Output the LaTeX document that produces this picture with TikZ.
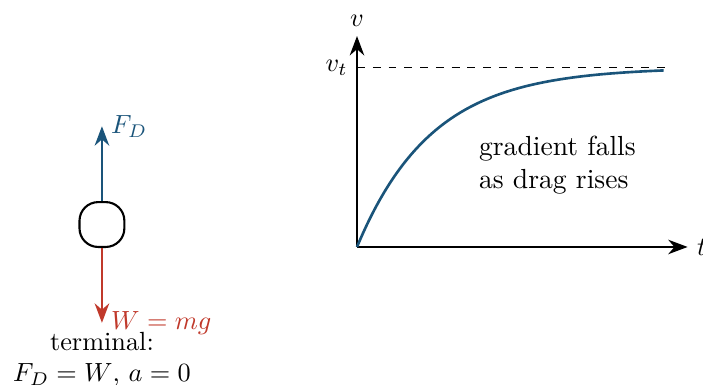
\documentclass[tikz,border=0pt]{standalone}
\usetikzlibrary{arrows.meta}
\definecolor{dragblue}{RGB}{26,84,122}
\definecolor{wred}{RGB}{192,57,43}
\tikzset{
  axis/.style={-{Stealth[length=2.6mm]}, line width=0.5pt},
  force/.style={-{Stealth[length=2.6mm]}, line width=0.8pt},
  bodybox/.style={draw, line width=0.8pt, rounded corners=2.5mm, minimum size=0.6cm, inner sep=0pt},
  notetext/.style={align=left, font=\fontsize{10.5}{12.6}\selectfont},
}
\begin{document}
\begin{tikzpicture}
\useasboundingbox (-4.773,-1.845) rectangle (4.626,3.302);
% free-body diagram
\node[bodybox] (body) at (-3.41,0.30) {};
\draw[force, dragblue] (body.north) -- ++(0,1) coordinate (fd);
\draw[force, wred] (body.south) -- ++(0,-1) coordinate (w);
\node[anchor=west, text=dragblue] (fdl) at (fd) {$F_D$};
\node[anchor=west, text=wred] (wl) at (w) {$W=mg$};
\node[anchor=north, align=center] (term) at (w) {terminal:\\$F_D=W$, $a=0$};
% graph
\coordinate (o) at (0,0);
\coordinate (xe) at (4.42,0);
\coordinate (ye) at (0,2.82);
\draw[axis] (o) -- (xe) node[right] (tl) {$t$};
\draw[axis] (o) -- (ye) node[above] (vl) {$v$};
\coordinate (vt) at (0,2.4);
\coordinate (vtend) at (4.16,2.4);
\draw[dashed, line width=0.5pt] (vt) -- (vtend);
\node[left] (vtl) at (vt) {$v_t$};
\draw[dragblue, line width=1pt, domain=0:4.1, samples=80, smooth] plot (\x,{2.4*(1-exp(-\x))});
\node[notetext] (note) at (2.68,1.1) {gradient falls\\as drag rises};
\end{tikzpicture}
\end{document}
